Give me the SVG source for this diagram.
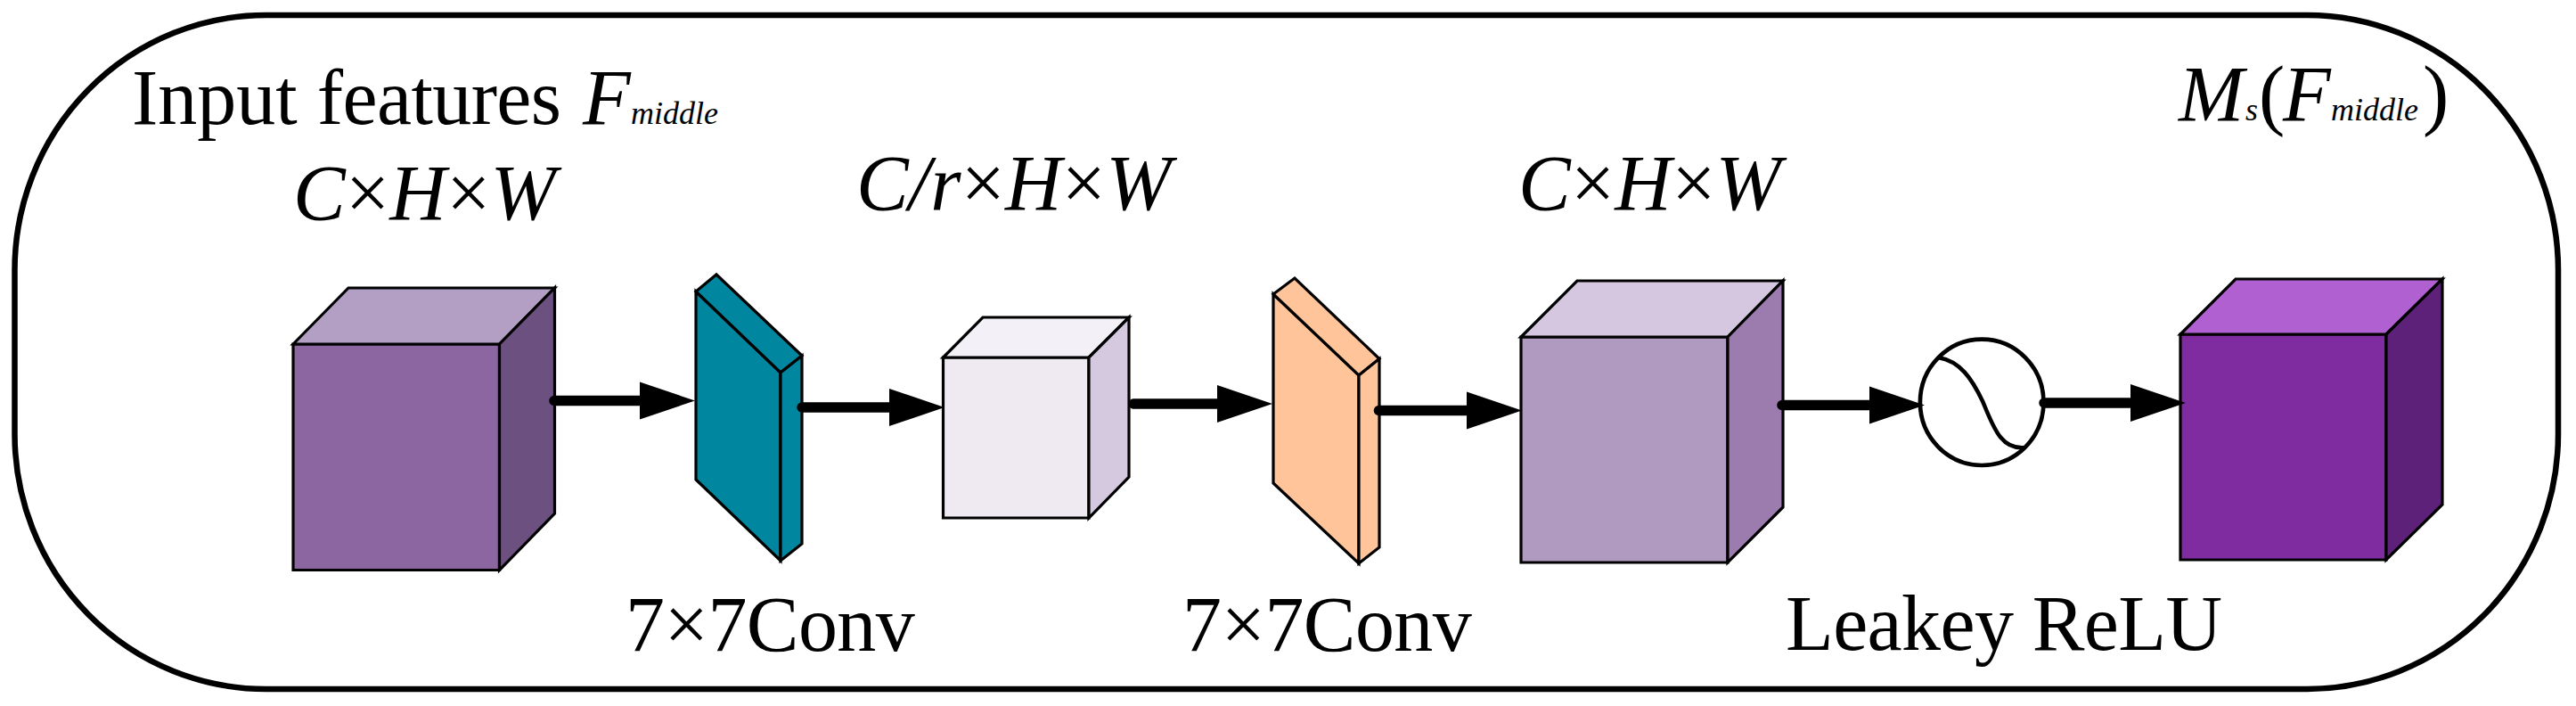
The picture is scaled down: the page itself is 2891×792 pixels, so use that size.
<svg xmlns="http://www.w3.org/2000/svg" width="2891" height="792" viewBox="0 0 2891 792">
<style>
.t{font-family:"Liberation Serif","Times New Roman",serif;font-size:88px;fill:#000}
.n{letter-spacing:-.6px}
.i{font-style:italic}
.s{font-size:36px;font-style:italic;letter-spacing:0}
.e{stroke:#000;stroke-width:3.2;stroke-linejoin:miter}
.c{stroke:#000;stroke-width:11.500;stroke-linecap:round;fill:none;marker-end:url(#h)}
</style>
<defs>
<marker id="h" markerUnits="userSpaceOnUse" markerWidth="62" markerHeight="44" refX="0" refY="22" orient="auto" overflow="visible"><path d="M0 1L62 22L0 43Z" fill="#000"/></marker>
</defs>
<rect width="2891" height="792" fill="#fff"/>
<g id="frame"><rect x="16.500" y="17" width="2854.500" height="756" rx="282" ry="286" fill="#fff" stroke="#000" stroke-width="6.500"/></g>
<g id="input-cube">
<path class="e" fill="#8B66A0" d="M329 386H560.500V639.500H329Z"/>
<path class="e" fill="#B39EC4" d="M329 386L391 323H622.500L560.500 386Z"/>
<path class="e" fill="#6B5080" d="M560.500 386L622.500 323V576L560.500 639.500Z"/>
</g>
<g id="conv-1">
<path class="e" fill="#00879F" d="M781 327L876 418V629L781 538Z"/>
<path class="e" fill="#00879F" d="M781 327L804 308L900 399L876 418Z"/>
<path class="e" fill="#00879F" d="M876 418L900 399V610L876 629Z"/>
</g>
<g id="reduced-cube">
<path class="e" fill="#EFEAF2" d="M1058.500 401H1222V581H1058.500Z"/>
<path class="e" fill="#F3F1F7" d="M1058.500 401L1103 356H1267L1222 401Z"/>
<path class="e" fill="#D5C9E0" d="M1222 401L1267 356V535L1222 581Z"/>
</g>
<g id="conv-2">
<path class="e" fill="#FFC499" d="M1429 330L1525 421V632L1429 542Z"/>
<path class="e" fill="#FFC499" d="M1429 330L1453 312L1548 402.500L1525 421Z"/>
<path class="e" fill="#FFC499" d="M1525 421L1548 402.500V614L1525 632Z"/>
</g>
<g id="restored-cube">
<path class="e" fill="#B19AC0" d="M1707 378H1939V631H1707Z"/>
<path class="e" fill="#D4C7DF" d="M1707 378L1770 315H2001L1939 378Z"/>
<path class="e" fill="#9C7BAE" d="M1939 378L2001 315V569L1939 631Z"/>
</g>
<g id="activation">
<ellipse cx="2224.200" cy="451.300" rx="69.300" ry="70.700" fill="#fff" stroke="#000" stroke-width="4.700"/>
<path d="M2175 401C2200 405 2213 425 2225 450C2237 478 2245 505 2273 502" fill="none" stroke="#000" stroke-width="4.500"/>
</g>
<g id="output-cube">
<path class="e" fill="#7F2CA1" d="M2447 375H2678V628H2447Z"/>
<path class="e" fill="#B060D0" d="M2447 375L2509 313H2741L2678 375Z"/>
<path class="e" fill="#5E2179" d="M2678 375L2741 313V566L2678 628Z"/>
</g>
<g id="connectors">
<path class="c" d="M622 449.500H718"/>
<path class="c" d="M900 457H998"/>
<path class="c" d="M1272 453H1366"/>
<path class="c" d="M1547.500 460.500H1646"/>
<path class="c" d="M2000 454.500H2098"/>
<path class="c" d="M2294 452H2391"/>
</g>
<g id="labels">
<text class="t" x="148" y="139">Input <tspan class="n">features</tspan><tspan class="i" x="654">F</tspan><tspan class="s" x="708">middle</tspan></text>
<text class="t i" x="329" y="246">C<tspan font-style="normal">×</tspan>H<tspan font-style="normal">×</tspan>W</text>
<text class="t i" x="961" y="235">C/r<tspan font-style="normal">×</tspan>H<tspan font-style="normal">×</tspan>W</text>
<text class="t i" x="1704" y="235">C<tspan font-style="normal">×</tspan>H<tspan font-style="normal">×</tspan>W</text>
<text class="t n" x="702" y="730">7×7Conv</text>
<text class="t n" x="1327" y="730">7×7Conv</text>
<text class="t n" x="2004" y="729">Leakey ReLU</text>
<text class="t" y="135"><tspan class="i" x="2445">M</tspan><tspan class="s" x="2520">s</tspan><tspan x="2535">(</tspan><tspan class="i" x="2562">F</tspan><tspan class="s" x="2616">middle</tspan><tspan x="2719">)</tspan></text>
</g>
</svg>
